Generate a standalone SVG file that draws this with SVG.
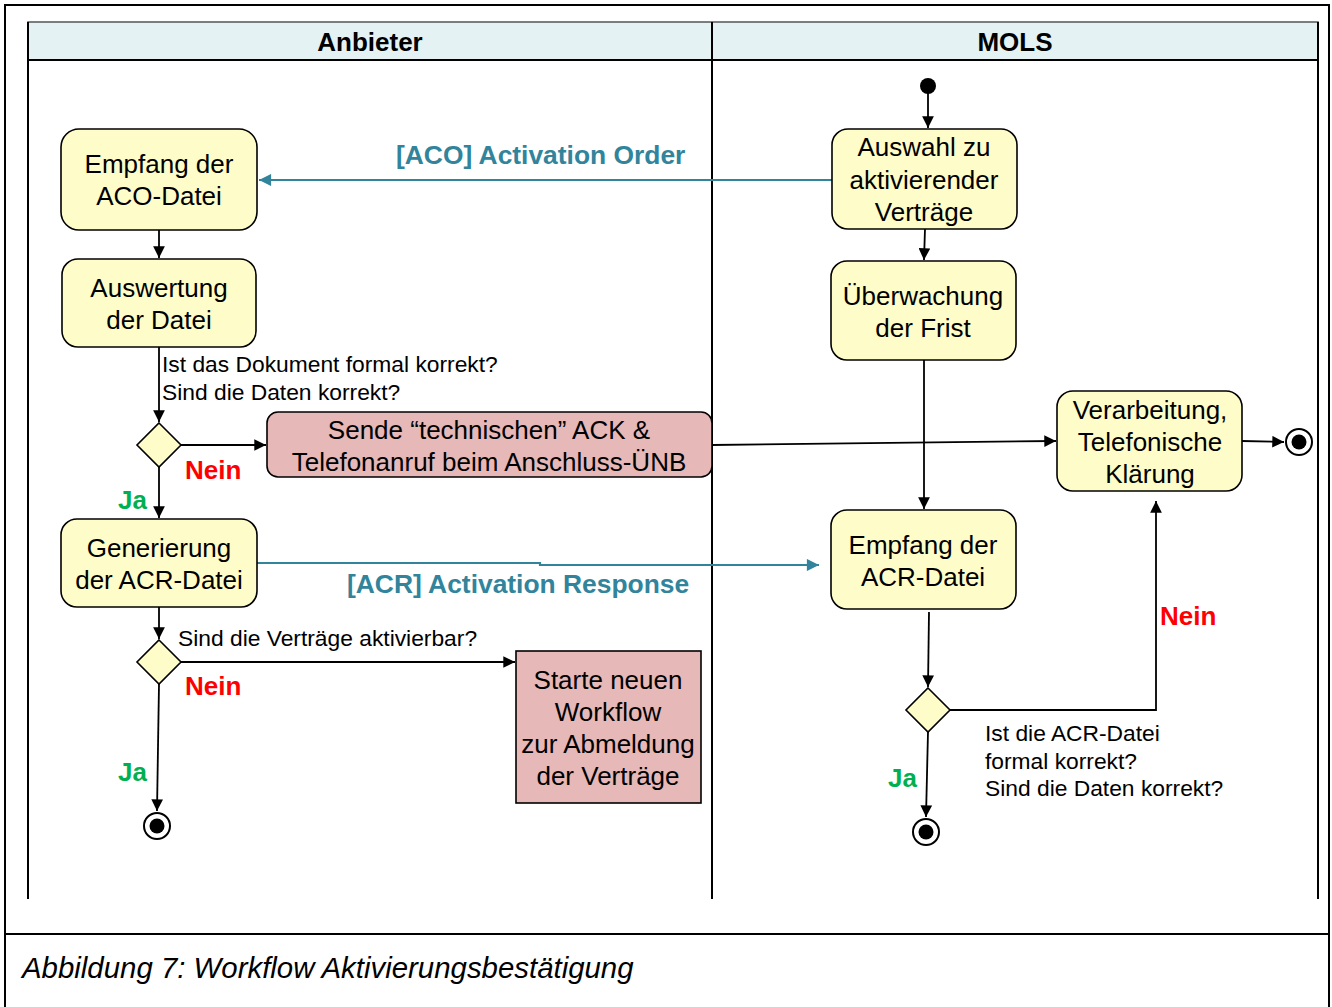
<svg xmlns="http://www.w3.org/2000/svg" width="1332" height="1007" viewBox="0 0 1332 1007">
  <style>
    .frame { fill: none; stroke: #000; stroke-width: 2; }
    .act { fill: #FEFDC9; stroke: #000; stroke-width: 1.6; }
    .warn { fill: #E6B8B7; stroke: #000; stroke-width: 1.6; }
    .dec { fill: #FEFDC9; stroke: #000; stroke-width: 1.6; }
    .flow { fill: none; stroke: #000; stroke-width: 1.8; marker-end: url(#arr); }
    .msg { fill: none; stroke: #31849B; stroke-width: 2.2; marker-end: url(#arrT); }
    .t { font-family: "Liberation Sans", Arial, sans-serif; font-size: 26px; fill: #000; text-anchor: middle; }
    .s { font-family: "Liberation Sans", Arial, sans-serif; font-size: 22.8px; fill: #000; }
    .hd { font-family: "Liberation Sans", Arial, sans-serif; font-size: 26px; font-weight: bold; text-anchor: middle; }
    .no { font-family: "Liberation Sans", Arial, sans-serif; font-size: 26px; font-weight: bold; fill: #FF0000; }
    .yes { font-family: "Liberation Sans", Arial, sans-serif; font-size: 26px; font-weight: bold; fill: #00B050; }
    .ml { font-family: "Liberation Sans", Arial, sans-serif; font-size: 26.4px; font-weight: bold; fill: #31849B; }
    .cap { font-family: "Liberation Sans", Arial, sans-serif; font-size: 29.4px; font-style: italic; }
  </style>
  <defs>
    <marker id="arr" viewBox="0 0 10 10" refX="10" refY="5" markerWidth="7" markerHeight="6.5" orient="auto" markerUnits="strokeWidth">
      <path d="M0,0 L10,5 L0,10 Z" fill="#000"/>
    </marker>
    <marker id="arrT" viewBox="0 0 10 10" refX="10" refY="5" markerWidth="6" markerHeight="5.5" orient="auto" markerUnits="strokeWidth">
      <path d="M0,0 L10,5 L0,10 Z" fill="#31849B"/>
    </marker>
  </defs>

  <rect width="1332" height="1007" fill="#fff"/>

  <!-- figure frame and caption -->
  <g id="figure-frame">
    <path class="frame" d="M5,1007 V5 H1329 V1007"/>
    <line class="frame" x1="5" y1="934" x2="1329" y2="934"/>
    <text class="cap" x="22" y="978">Abbildung 7: Workflow Aktivierungsbestätigung</text>
  </g>

  <!-- swimlane pool -->
  <g id="pool">
    <rect x="28" y="22" width="1290" height="38" fill="#E4F2F3" stroke="#555" stroke-width="1.5"/>
    <line x1="28" y1="60" x2="1318" y2="60" stroke="#000" stroke-width="2"/>
    <line x1="28" y1="22" x2="28" y2="899" stroke="#000" stroke-width="2"/>
    <line x1="712" y1="22" x2="712" y2="899" stroke="#000" stroke-width="2"/>
    <line x1="1318" y1="22" x2="1318" y2="899" stroke="#000" stroke-width="2"/>
    <text class="hd" x="370" y="51">Anbieter</text>
    <text class="hd" x="1015" y="51">MOLS</text>
  </g>

  <!-- connectors -->
  <g id="connectors">
    <line class="msg" x1="832" y1="180" x2="259" y2="180"/>
    <polyline class="msg" points="257,563 540,563 540,565 819,565"/>
    <line class="flow" x1="159" y1="230" x2="159" y2="258"/>
    <line class="flow" x1="159" y1="347" x2="159" y2="422"/>
    <line class="flow" x1="181" y1="445" x2="266" y2="445"/>
    <line class="flow" x1="159" y1="467" x2="159" y2="518"/>
    <line class="flow" x1="159" y1="607" x2="159" y2="639"/>
    <line class="flow" x1="181" y1="662" x2="515" y2="662"/>
    <line class="flow" x1="159" y1="684" x2="157" y2="811"/>
    <line class="flow" x1="712" y1="445" x2="1056" y2="441"/>
    <line class="flow" x1="1242" y1="441" x2="1284" y2="442"/>
    <line class="flow" x1="928" y1="92" x2="928" y2="128"/>
    <line class="flow" x1="925" y1="229" x2="924" y2="260"/>
    <line class="flow" x1="924" y1="360" x2="924" y2="509"/>
    <line class="flow" x1="929" y1="612" x2="928" y2="687"/>
    <polyline class="flow" points="950,710 1156,710 1156,501"/>
    <line class="flow" x1="928" y1="732" x2="926" y2="817"/>

    <text class="ml" x="396" y="164">[ACO] Activation Order</text>
    <text class="ml" x="347" y="593">[ACR] Activation Response</text>
    <text class="s" x="162" y="372">Ist das Dokument formal korrekt?</text>
    <text class="s" x="162" y="400">Sind die Daten korrekt?</text>
    <text class="s" x="178" y="646">Sind die Verträge aktivierbar?</text>
    <text class="s" x="985" y="741">Ist die ACR-Datei</text>
    <text class="s" x="985" y="769">formal korrekt?</text>
    <text class="s" x="985" y="796">Sind die Daten korrekt?</text>
    <text class="no" x="185" y="479">Nein</text>
    <text class="yes" x="118" y="509">Ja</text>
    <text class="no" x="185" y="695">Nein</text>
    <text class="yes" x="118" y="781">Ja</text>
    <text class="no" x="1160" y="625">Nein</text>
    <text class="yes" x="888" y="787">Ja</text>
  </g>

  <!-- Anbieter lane -->
  <g id="empfang-aco">
    <rect class="act" x="61" y="129" width="196" height="101" rx="18"/>
    <text class="t" x="159" y="173">Empfang der</text>
    <text class="t" x="159" y="205">ACO-Datei</text>
  </g>
  <g id="auswertung">
    <rect class="act" x="62" y="259" width="194" height="88" rx="16"/>
    <text class="t" x="159" y="297">Auswertung</text>
    <text class="t" x="159" y="329">der Datei</text>
  </g>
  <g id="decision-formal">
    <polygon class="dec" points="159,423 181,445 159,467 137,445"/>
  </g>
  <g id="sende-ack">
    <rect class="warn" x="267" y="412" width="445" height="65" rx="11"/>
    <text class="t" x="489" y="439">Sende “technischen” ACK &amp;</text>
    <text class="t" x="489" y="471">Telefonanruf beim Anschluss-ÜNB</text>
  </g>
  <g id="generierung-acr">
    <rect class="act" x="61" y="519" width="196" height="88" rx="16"/>
    <text class="t" x="159" y="557">Generierung</text>
    <text class="t" x="159" y="589">der ACR-Datei</text>
  </g>
  <g id="decision-aktivierbar">
    <polygon class="dec" points="159,640 181,662 159,684 137,662"/>
  </g>
  <g id="starte-workflow">
    <rect class="warn" x="516" y="651" width="185" height="152"/>
    <text class="t" x="608" y="689">Starte neuen</text>
    <text class="t" x="608" y="721">Workflow</text>
    <text class="t" x="608" y="753">zur Abmeldung</text>
    <text class="t" x="608" y="785">der Verträge</text>
  </g>
  <g id="end-anbieter">
    <circle cx="157" cy="826" r="13" fill="#fff" stroke="#000" stroke-width="2"/>
    <circle cx="157" cy="826" r="7.5" fill="#000"/>
  </g>

  <!-- MOLS lane -->
  <g id="start">
    <circle cx="928" cy="86" r="8" fill="#000"/>
  </g>
  <g id="auswahl">
    <rect class="act" x="832" y="129" width="185" height="100" rx="16"/>
    <text class="t" x="924" y="156">Auswahl zu</text>
    <text class="t" x="924" y="189">aktivierender</text>
    <text class="t" x="924" y="221">Verträge</text>
  </g>
  <g id="ueberwachung">
    <rect class="act" x="831" y="261" width="185" height="99" rx="16"/>
    <text class="t" x="923" y="305">Überwachung</text>
    <text class="t" x="923" y="337">der Frist</text>
  </g>
  <g id="empfang-acr">
    <rect class="act" x="831" y="510" width="185" height="99" rx="16"/>
    <text class="t" x="923" y="554">Empfang der</text>
    <text class="t" x="923" y="586">ACR-Datei</text>
  </g>
  <g id="decision-acr">
    <polygon class="dec" points="928,688 950,710 928,732 906,710"/>
  </g>
  <g id="end-mols">
    <circle cx="926" cy="832" r="13" fill="#fff" stroke="#000" stroke-width="2"/>
    <circle cx="926" cy="832" r="7.5" fill="#000"/>
  </g>
  <g id="verarbeitung">
    <rect class="act" x="1057" y="391" width="185" height="100" rx="16"/>
    <text class="t" x="1150" y="419">Verarbeitung,</text>
    <text class="t" x="1150" y="451">Telefonische</text>
    <text class="t" x="1150" y="483">Klärung</text>
  </g>
  <g id="end-verarbeitung">
    <circle cx="1299" cy="442" r="13" fill="#fff" stroke="#000" stroke-width="2"/>
    <circle cx="1299" cy="442" r="7.5" fill="#000"/>
  </g>
</svg>
